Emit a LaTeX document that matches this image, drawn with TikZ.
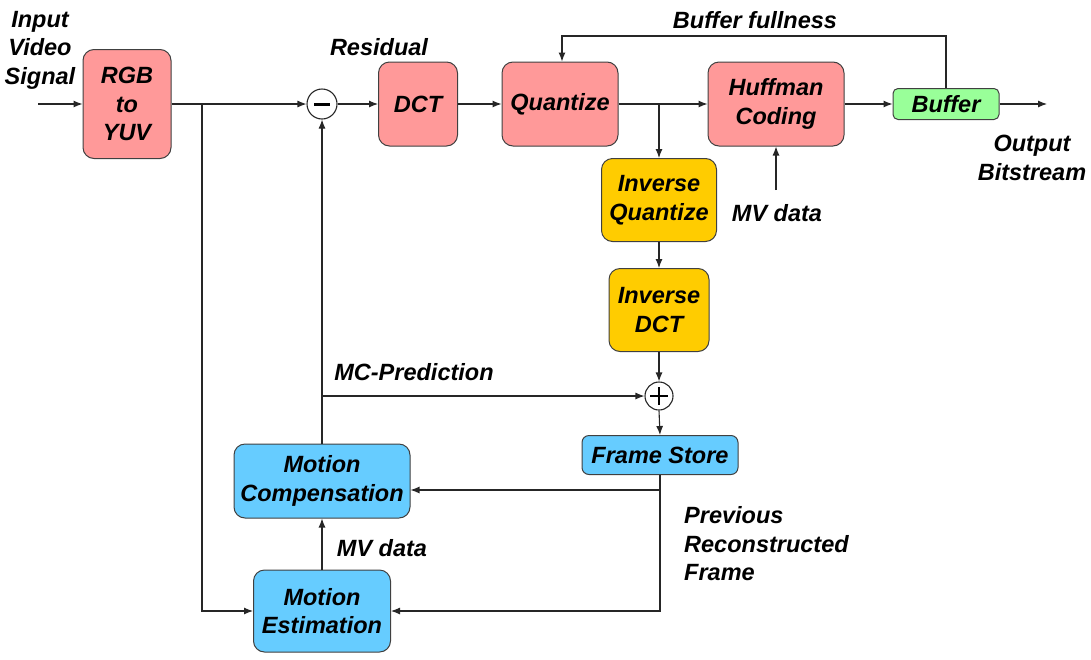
\documentclass[tikz,border=0pt]{standalone}
\usepackage{fontspec}
\setmainfont{Liberation Sans}
\usetikzlibrary{arrows.meta,calc}
\definecolor{redbox}{HTML}{FF9999}
\definecolor{yelbox}{HTML}{FFCC00}
\definecolor{bluebox}{HTML}{66CCFF}
\definecolor{greenbox}{HTML}{99FF99}
\definecolor{edge}{HTML}{404040}
\begin{document}
\begin{tikzpicture}[x=1pt,y=-1pt,
  every node/.style={font=\fontsize{23.5}{28.5}\selectfont\bfseries\itshape, inner sep=0pt},
  blk/.style={draw=edge, line width=1pt, rounded corners=11pt, align=center},
  lbl/.style={align=center},
  lbll/.style={align=left},
  arr/.style={draw=black!85, line width=1.1pt, -{Latex[length=9pt,width=7pt]}},
  ln/.style={draw=black!85, line width=1.1pt},
  sumc/.style={circle, draw=black!85, line width=1.1pt, fill=white, minimum size=30pt}]
\useasboundingbox (0,0) rectangle (1091,659);

% blocks
\node[blk, fill=redbox, minimum width=88pt, minimum height=109pt] (rgb) at (127,104) {RGB\\to\\YUV};
\node[blk, fill=redbox, minimum width=79pt, minimum height=84pt] (dct) at (418,104) {DCT};
\node[blk, fill=redbox, minimum width=116pt, minimum height=84pt] (quant) at (560,104) {Quantize};
\node[blk, fill=redbox, minimum width=136pt, minimum height=84pt] (huff) at (776,104) {Huffman\\Coding};
\node[blk, fill=greenbox, rounded corners=5pt, minimum width=106pt, minimum height=31pt] (buf) at (946,104) {Buffer};
\node[blk, fill=yelbox, minimum width=115pt, minimum height=83pt] (iq) at (659,200) {Inverse\\Quantize};
\node[blk, fill=yelbox, minimum width=100pt, minimum height=83pt] (idct) at (659,310) {Inverse\\DCT};
\node[blk, fill=bluebox, rounded corners=7pt, minimum width=156pt, minimum height=39pt] (fs) at (660,455) {Frame Store};
\node[blk, fill=bluebox, minimum width=176pt, minimum height=74pt] (mc) at (322,481) {Motion\\Compensation};
\node[blk, fill=bluebox, minimum width=137pt, minimum height=82pt] (me) at (322,611) {Motion\\Estimation};

% summing junctions
\node[sumc] (minus) at (322,104) {};
\draw[line width=3pt] ($(minus)+(-8,0)$) -- ($(minus)+(8,0)$);
\node[sumc, minimum size=28pt] (plus) at (659,396) {};
\draw[line width=2pt] ($(plus)+(-9,0)$) -- ($(plus)+(9,0)$);
\draw[line width=2pt] ($(plus)+(0,-9)$) -- ($(plus)+(0,9)$);

% coordinates
\coordinate (in) at (38,104);
\coordinate (out) at (1047,104);
\coordinate (b1) at (202,104);
\coordinate (b2) at (659,104);
\coordinate (b3) at (322,396);
\coordinate (mvin) at (776,190);
\coordinate (b4) at (660,490);

% connectors
\draw[arr] (in) -- (rgb.west);
\draw[arr] (rgb.east) -- (minus.west);
\draw[arr] (b1) |- (me.west);
\draw[arr] (minus.east) -- (dct.west);
\draw[arr] (dct.east) -- (quant.west);
\draw[arr] (quant.east) -- (huff.west);
\draw[arr] (huff.east) -- (buf.west);
\draw[arr] (buf.east) -- (out);
\draw[arr] (buf.north) -- ++(0,-52) -| ([xshift=2pt]quant.north);
\draw[arr] (b2) -- (iq.north);
\draw[arr] (mvin) -- (huff.south);
\draw[arr] (iq.south) -- (idct.north);
\draw[arr] (idct.south) -- (plus.north);
\draw[arr] (plus.south) -- (fs.north);
\draw[arr] (mc.north) -- (minus.south);
\draw[arr] (b3) -- (plus.west);
\draw[arr] (fs.south) |- (me.east);
\draw[arr] (b4) -- (b4 -| mc.east);
\draw[arr] (me.north) -- (mc.south);

% labels
\node[lbl] (linput) at (40,50) {Input\\Video\\Signal};
\node[lbl] (lres) at (379,47) {Residual};
\node[lbl] (lbf) at (755,20) {Buffer fullness};
\node[lbl] (lout) at (1032,158) {Output\\Bitstream};
\node[lbl] (lmv1) at (777,213) {MV data};
\node[lbl] (lmcp) at (414,372) {MC-Prediction};
\node[lbl] (lmv2) at (382,548) {MV data};
\node[lbll, anchor=west] (lprev) at (684,544) {Previous\\Reconstructed\\Frame};
\end{tikzpicture}
\end{document}
